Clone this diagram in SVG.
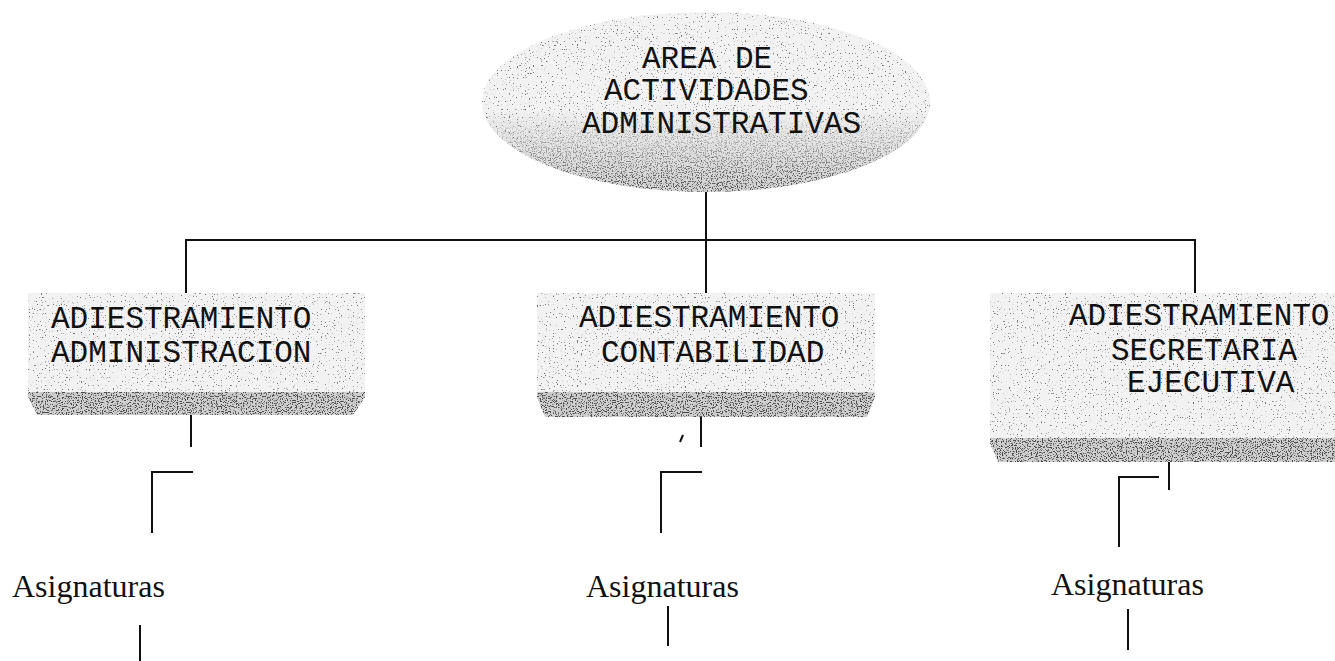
<svg xmlns="http://www.w3.org/2000/svg" width="1335" height="661" viewBox="0 0 1335 661">
<style>
  .mono{font-family:"Liberation Mono","Courier New",monospace;font-size:31px;fill:#111}
  .serif{font-family:"Liberation Serif","Times New Roman",serif;font-size:32px;fill:#111}
  .ln{stroke:#111;stroke-width:2;fill:none}
  .lite{fill:#f2f2f2}
  .dark{fill:#cfcfcf}
</style>
<defs>
  <filter id="spk" color-interpolation-filters="sRGB">
    <feTurbulence type="fractalNoise" baseFrequency="0.75" numOctaves="1" seed="7" result="n"/>
    <feColorMatrix in="n" type="matrix" values="0 0 0 0 0.45  0 0 0 0 0.45  0 0 0 0 0.45  12 0 0 0 -7.7" result="d"/>
    <feComposite in="d" in2="SourceGraphic" operator="in" result="c"/>
    <feMerge><feMergeNode in="SourceGraphic"/><feMergeNode in="c"/></feMerge>
  </filter>
  <filter id="spkd" color-interpolation-filters="sRGB">
    <feTurbulence type="fractalNoise" baseFrequency="0.8" numOctaves="1" seed="11" result="n"/>
    <feColorMatrix in="n" type="matrix" values="0 0 0 0 0.3  0 0 0 0 0.3  0 0 0 0 0.3  12 0 0 0 -6.4" result="d"/>
    <feComposite in="d" in2="SourceGraphic" operator="in" result="c"/>
    <feMerge><feMergeNode in="SourceGraphic"/><feMergeNode in="c"/></feMerge>
  </filter>
  <linearGradient id="fadeDown" x1="0" y1="0" x2="0" y2="1">
    <stop offset="0.55" stop-color="#fff" stop-opacity="0"/>
    <stop offset="0.95" stop-color="#fff" stop-opacity="0.9"/>
  </linearGradient>
  <mask id="ellMask" maskContentUnits="objectBoundingBox">
    <rect x="0" y="0" width="1" height="1" fill="url(#fadeDown)"/>
  </mask>
</defs>
<rect width="1335" height="661" fill="#fff"/>

<g id="connectors">
  <path class="ln" d="M706 190 V240"/>
  <path class="ln" d="M185 240 H1196"/>
  <path class="ln" d="M186 240 V293"/>
  <path class="ln" d="M706 240 V293"/>
  <path class="ln" d="M1195 240 V293"/>
  <path class="ln" d="M191 405 V447"/>
  <path class="ln" d="M193 472 H152 V533"/>
  <path class="ln" d="M140 625 V661"/>
  <path class="ln" d="M701 407 V447"/>
  <path class="ln" d="M702 472 H661 V533"/>
  <path class="ln" d="M668 606 V646"/>
  <path class="ln" d="M1169 440 V490"/>
  <path class="ln" d="M1159 477 H1119 V547"/>
  <path class="ln" d="M1128 609 V650"/>
  <path d="M683 435 L680 442" stroke="#111" stroke-width="2"/>
</g>

<g id="root">
  <ellipse class="lite" cx="706" cy="102" rx="224" ry="90" filter="url(#spk)"/>
  <ellipse class="dark" cx="706" cy="102" rx="224" ry="90" mask="url(#ellMask)" filter="url(#spkd)"/>
  <text class="mono" x="642" y="68">AREA DE</text>
  <text class="mono" x="604" y="100">ACTIVIDADES</text>
  <text class="mono" x="582" y="133">ADMINISTRATIVAS</text>
</g>

<g id="box-administracion">
  <rect class="lite" x="28" y="293" width="337" height="100" filter="url(#spk)"/>
  <polygon class="dark" points="28,392 365,392 365,397 353,415 37,415 28,397" filter="url(#spkd)"/>
  <text class="mono" x="51" y="328">ADIESTRAMIENTO</text>
  <text class="mono" x="51" y="362">ADMINISTRACION</text>
</g>

<g id="box-contabilidad">
  <rect class="lite" x="537" y="293" width="338" height="100" filter="url(#spk)"/>
  <polygon class="dark" points="537,392 875,392 875,397 867,417 545,417 537,397" filter="url(#spkd)"/>
  <text class="mono" x="579" y="327">ADIESTRAMIENTO</text>
  <text class="mono" x="601" y="362">CONTABILIDAD</text>
</g>

<g id="box-secretaria">
  <rect class="lite" x="990" y="293" width="355" height="146" filter="url(#spk)"/>
  <polygon class="dark" points="990,438 1345,438 1345,462 998,462 990,443" filter="url(#spkd)"/>
  <text class="mono" x="1069" y="325">ADIESTRAMIENTO</text>
  <text class="mono" x="1111" y="360">SECRETARIA</text>
  <text class="mono" x="1127" y="392">EJECUTIVA</text>
</g>

<g id="asig-1"><text class="serif" x="12" y="597">Asignaturas</text></g>
<g id="asig-2"><text class="serif" x="586" y="597">Asignaturas</text></g>
<g id="asig-3"><text class="serif" x="1051" y="595">Asignaturas</text></g>
</svg>
